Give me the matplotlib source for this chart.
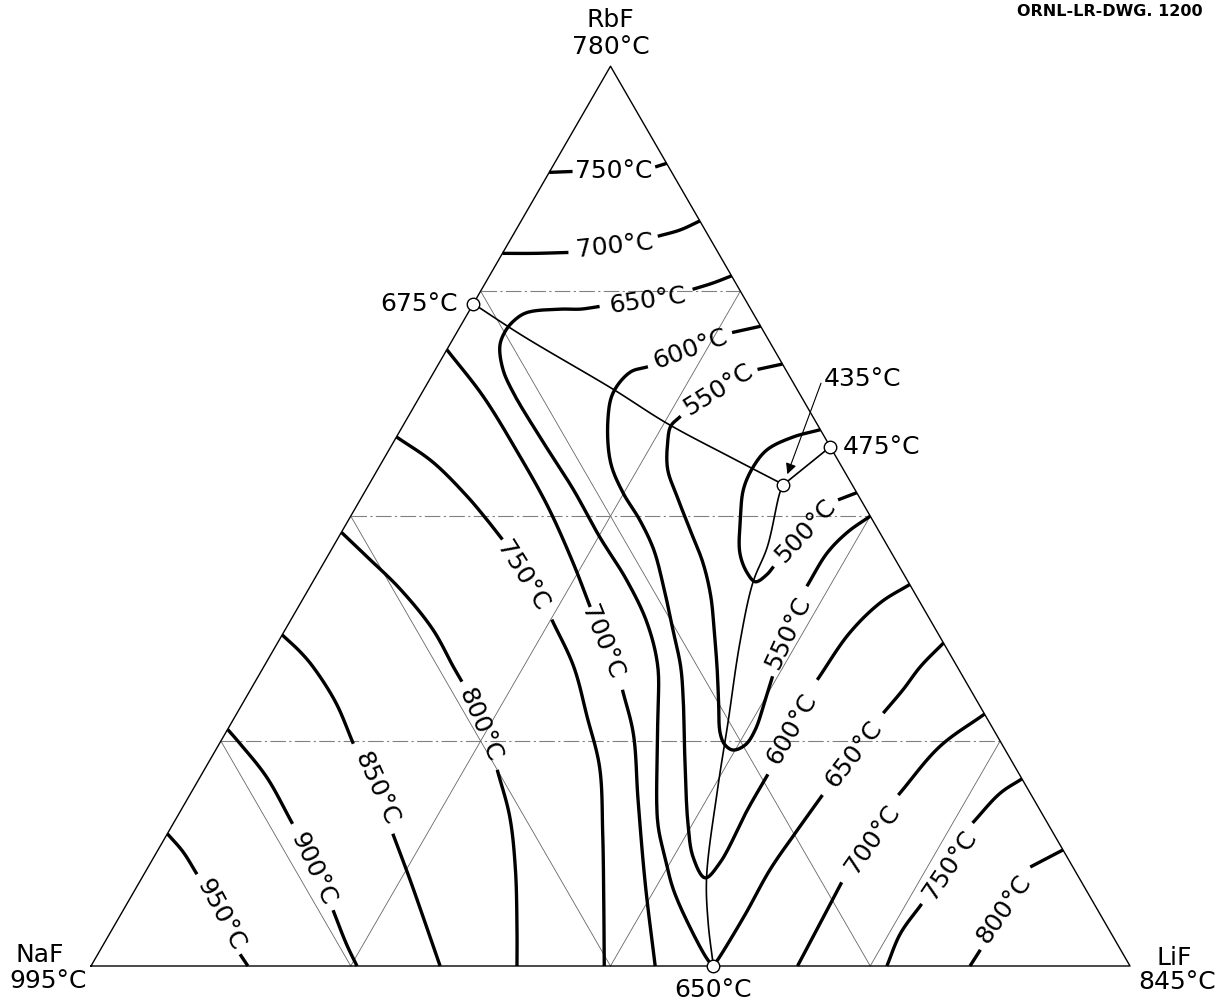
import numpy as np
import matplotlib
matplotlib.use("Agg")
import matplotlib.pyplot as plt

# ---------------- data: compositions in mol % (LiF, RbF); NaF = 100 - LiF - RbF
# isotherms: lists of segments (gaps are where the labels sit)
T750_RbF = [[(0.0, 88.2), (2.2, 88.3)], [(9.9, 88.8), (10.8, 89.2)]]
T700_RbF = [[(0.0, 79.2), (3.1, 79.2), (6.3, 79.3)],
            [(14.0, 81.1), (15.8, 81.8), (17.2, 82.8)]]
T650 = [[(23.3, 76.7), (21.9, 75.9), (20.3, 75.2)],
        [(12.3, 73.3), (10.6, 73.0), (8.7, 73.0), (5.6, 72.6), (4.8, 71.6), (4.6, 70.4),
         (4.9, 68.9), (6.5, 66.3), (8.8, 63.7), (13.8, 58.8), (19.9, 53.0), (25.1, 47.7),
         (30.1, 42.9), (34.4, 38.2), (37.9, 33.3), (40.7, 27.7), (42.5, 24.0), (46.6, 15.9),
         (49.4, 11.8), (51.8, 8.5), (55.5, 4.3), (59.0, 0.7), (59.9, 0.0)],
        [(59.9, 0.0), (60.0, 1.0), (60.1, 5.7), (60.0, 10.7), (60.4, 14.8), (60.9, 19.0)],
        [(62.2, 28.1), (62.8, 30.7), (63.2, 33.3), (64.1, 35.9)]]
T600 = [[(28.9, 71.1), (26.5, 70.4)],
        [(20.3, 66.6), (18.9, 66.0), (18.4, 63.7), (19.4, 60.7), (22.0, 56.0), (24.9, 52.6),
         (28.0, 49.6), (31.0, 46.3), (34.0, 42.2), (37.3, 37.4), (40.1, 33.3), (42.2, 29.6),
         (45.5, 23.3), (49.5, 15.9), (51.9, 12.1), (54.2, 9.8), (54.8, 11.5), (54.5, 17.4),
         (54.5, 21.3)],
        [(54.0, 31.8), (54.5, 37.0), (55.8, 40.4), (57.6, 42.4)]]
T550 = [[(33.1, 66.9), (31.0, 66.3)],
        [(26.2, 61.1), (25.8, 60.0), (26.4, 58.2), (27.9, 55.2), (30.3, 52.2), (33.4, 48.5),
         (36.5, 44.8), (39.1, 41.1), (41.5, 37.0), (43.6, 33.3), (45.6, 29.6), (47.6, 25.9),
         (48.7, 24.6), (49.8, 24.0), (50.7, 24.6), (50.8, 26.3), (50.1, 29.6), (49.5, 32.2)],
        [(47.8, 42.2), (47.9, 45.9), (48.7, 48.2), (50.0, 50.0)]]
T500 = [[(40.4, 59.6), (38.2, 58.8), (36.4, 57.4), (36.0, 55.5), (36.3, 53.0), (37.7, 49.6),
         (39.5, 45.9), (41.3, 43.7), (42.6, 42.7), (43.3, 43.5), (43.5, 44.4)],
        [(46.0, 51.8), (47.4, 52.6)]]
T700_NaF = [[(0.0, 68.5), (6.1, 63.3), (12.5, 57.1), (18.4, 51.1), (24.0, 44.8), (28.1, 39.9)],
            [(35.8, 30.7), (39.3, 25.8), (43.4, 18.5), (48.8, 9.1), (54.3, 0.0)]]
T750_NaF = [[(0.0, 58.8), (4.9, 56.0), (10.1, 52.2), (13.3, 49.6), (15.9, 47.4)],
            [(25.1, 38.5), (29.8, 33.3), (33.9, 27.7), (37.9, 22.1), (41.9, 14.7),
             (45.7, 7.3), (49.4, 0.0)]]
T800_NaF = [[(0.0, 48.2), (3.8, 45.5), (8.8, 41.9), (14.2, 37.4), (18.3, 33.2), (19.9, 31.6)],
            [(28.2, 21.8), (32.0, 16.6), (35.5, 10.7), (39.0, 4.0), (41.0, 0.0)]]
T850 = [[(0.0, 36.8), (2.7, 34.9), (4.8, 33.2), (8.9, 29.3), (12.9, 24.7)],
        [(21.7, 14.7), (25.9, 9.6), (29.2, 5.5), (33.6, 0.0)]]
T900 = [[(0.0, 26.3), (2.0, 24.7), (6.4, 21.0), (11.5, 15.8)],
        [(20.2, 6.2), (23.4, 2.4), (25.6, 0.0)]]
T950 = [[(0.0, 14.7), (2.5, 12.7), (5.1, 10.2)], [(13.7, 1.3), (15.1, 0.0)]]
T700_LiF = [[(68.0, 0.0), (67.8, 4.8), (67.6, 9.3)], [(68.2, 19.0), (69.5, 24.4), (72.0, 28.0)]]
T750_LiF = [[(76.6, 0.0), (76.1, 3.6), (76.5, 6.9)], [(76.9, 15.9), (77.9, 19.2), (79.2, 20.8)]]
T800_LiF = [[(84.6, 0.0), (84.7, 1.8)], [(84.9, 11.0), (87.1, 12.9)]]

ISOTHERMS = [T750_RbF, T700_RbF, T650, T600, T550, T500, T700_NaF, T750_NaF,
             T800_NaF, T850, T900, T950, T700_LiF, T750_LiF, T800_LiF]

# isotherm labels: text, LiF %, RbF %, rotation
ISO_LABELS = [("750°C", 6.2, 88.3, 0), ("700°C", 10.4, 80.0, 6), ("650°C", 16.6, 73.9, 8),
              ("600°C", 23.4, 68.6, 20), ("550°C", 28.3, 64.1, 32), ("500°C", 44.6, 48.3, 47),
              ("550°C", 48.6, 37.0, 65), ("600°C", 54.3, 26.3, 60), ("650°C", 61.6, 23.5, 52),
              ("700°C", 68.2, 14.1, 55), ("750°C", 77.1, 11.2, 56), ("800°C", 84.7, 6.3, 55),
              ("700°C", 31.2, 36.0, -68), ("750°C", 19.9, 43.3, -58), ("800°C", 24.0, 26.8, -67),
              ("850°C", 17.6, 19.7, -66), ("900°C", 16.0, 10.8, -65), ("950°C", 9.6, 5.7, -62)]

# boundary curves
B_675_435 = [(0.0, 73.6), (6.6, 70.0), (18.2, 64.1), (25.3, 60.3), (33.6, 56.4), (39.9, 53.5)]
B_475_435 = [(42.3, 57.7), (39.9, 53.5)]
B_435_650 = [(39.9, 53.5), (40.0, 52.6), (41.8, 46.6), (42.4, 42.6), (44.5, 35.9), (47.8, 27.0),
             (50.5, 19.6), (54.3, 9.9), (57.0, 4.8), (59.9, 0.0)]

# invariant points: LiF %, RbF %, label
POINTS = {"675": (0.0, 73.6, "675°C"), "475": (42.3, 57.7, "475°C"),
          "435": (39.9, 53.5, "435°C"), "650": (59.9, 0.0, "650°C")}
GRID = [25, 50, 75]
VERTICES = [("NaF", "995°C"), ("LiF", "845°C"), ("RbF", "780°C")]

H = np.sqrt(3) / 2


def xy(pts):
    a = np.asarray(pts, float)
    l, r = a[..., 0] / 100.0, a[..., 1] / 100.0
    return np.stack([l + r / 2, r * H], axis=-1)


def catmull(P, n=14):
    P = np.asarray(P, float)
    if len(P) < 3:
        return P
    Q = np.vstack([2 * P[0] - P[1], P, 2 * P[-1] - P[-2]])
    out = []
    for i in range(1, len(Q) - 2):
        p0, p1, p2, p3 = Q[i - 1], Q[i], Q[i + 1], Q[i + 2]

        def tj(ti, a, b):
            return ti + max(np.hypot(*(b - a)), 1e-9) ** 0.5
        t0 = 0.0
        t1 = tj(t0, p0, p1)
        t2 = tj(t1, p1, p2)
        t3 = tj(t2, p2, p3)
        t = np.linspace(t1, t2, n, endpoint=False)[:, None]
        A1 = (t1 - t) / (t1 - t0) * p0 + (t - t0) / (t1 - t0) * p1
        A2 = (t2 - t) / (t2 - t1) * p1 + (t - t1) / (t2 - t1) * p2
        A3 = (t3 - t) / (t3 - t2) * p2 + (t - t2) / (t3 - t2) * p3
        B1 = (t2 - t) / (t2 - t0) * A1 + (t - t0) / (t2 - t0) * A2
        B2 = (t3 - t) / (t3 - t1) * A2 + (t - t1) / (t3 - t1) * A3
        out.append((t2 - t) / (t2 - t1) * B1 + (t - t1) / (t2 - t1) * B2)
    out.append(P[-1][None, :])
    return np.vstack(out)


plt.rcParams["font.family"] = ["DejaVu Sans"]
fig = plt.figure(figsize=(12.27, 10.07), dpi=100)
ax = fig.add_axes([0, 0, 1, 1])
ax.set_xlim(-91 / 1039, 1136 / 1039)
ax.set_ylim(-41 / 1039, 966 / 1039)
ax.axis("off")

# grid
for g in GRID:
    p = xy([(0, g), (100 - g, g)])
    ax.plot(p[:, 0], p[:, 1], color="0.5", lw=0.8, ls=(0, (14, 3, 2, 3)), zorder=1)
    p = xy([(0, 100 - g), (100 - g, 0)])
    ax.plot(p[:, 0], p[:, 1], color="0.4", lw=0.6, zorder=1)
    p = xy([(g, 0), (g, 100 - g)])
    ax.plot(p[:, 0], p[:, 1], color="0.4", lw=0.6, zorder=1)

# triangle
tri = xy([(0, 0), (100, 0), (0, 100), (0, 0)])
ax.plot(tri[:, 0], tri[:, 1], color="black", lw=1.0, zorder=2)

# boundaries
for b in (B_675_435, B_475_435, B_435_650):
    c = catmull(xy(b))
    ax.plot(c[:, 0], c[:, 1], color="black", lw=1.2, zorder=3)

# isotherms
for iso in ISOTHERMS:
    for seg in iso:
        c = catmull(xy(seg))
        ax.plot(c[:, 0], c[:, 1], color="black", lw=2.4, solid_capstyle="butt", zorder=4)

FS = 18
for txt, l, r, rot in ISO_LABELS:
    p = xy((l, r))
    ax.text(p[0], p[1], txt, fontsize=FS, ha="center", va="center", rotation=rot,
            rotation_mode="anchor", zorder=5)

# invariant points
for key, (l, r, lab) in POINTS.items():
    p = xy((l, r))
    ax.plot(p[0], p[1], "o", ms=9, mfc="white", mec="black", mew=1.0, zorder=6)

p = xy(POINTS["675"][:2])
ax.annotate(POINTS["675"][2], p, xytext=(-11, 0), textcoords="offset points",
            ha="right", va="center", fontsize=FS)
p = xy(POINTS["475"][:2])
ax.annotate(POINTS["475"][2], p, xytext=(9, 0), textcoords="offset points",
            ha="left", va="center", fontsize=FS)
p = xy(POINTS["650"][:2])
ax.annotate(POINTS["650"][2], p, xytext=(0, -17), textcoords="offset points",
            ha="center", va="center", fontsize=FS)
p = xy(POINTS["435"][:2])
ax.annotate(POINTS["435"][2], p, xytext=(29, 76), textcoords="offset points",
            ha="left", va="center", fontsize=FS)
ax.annotate("", p, xytext=(27, 73), textcoords="offset points",
            arrowprops=dict(arrowstyle="-|>", color="black", lw=0.8, mutation_scale=16,
                            shrinkA=0, shrinkB=8))

# vertex labels
corners = xy([(0, 0), (100, 0), (0, 100)])
offs = [((-37, 8), (-31, -11)), ((32, 6), (34, -11.5)), ((0, 33), (0, 13.5))]
for (name, tm), c, (o1, o2) in zip(VERTICES, corners, offs):
    ax.annotate(name, c, xytext=o1, textcoords="offset points", ha="center", va="center",
                fontsize=FS)
    ax.annotate(tm, c, xytext=o2, textcoords="offset points", ha="center", va="center",
                fontsize=FS)

fig.text(1203 / 1227, 1 - 11 / 1007, "ORNL-LR-DWG. 1200", ha="right", va="center",
         fontsize=11.5, fontweight="bold")

fig.savefig("out.png", dpi=100)
